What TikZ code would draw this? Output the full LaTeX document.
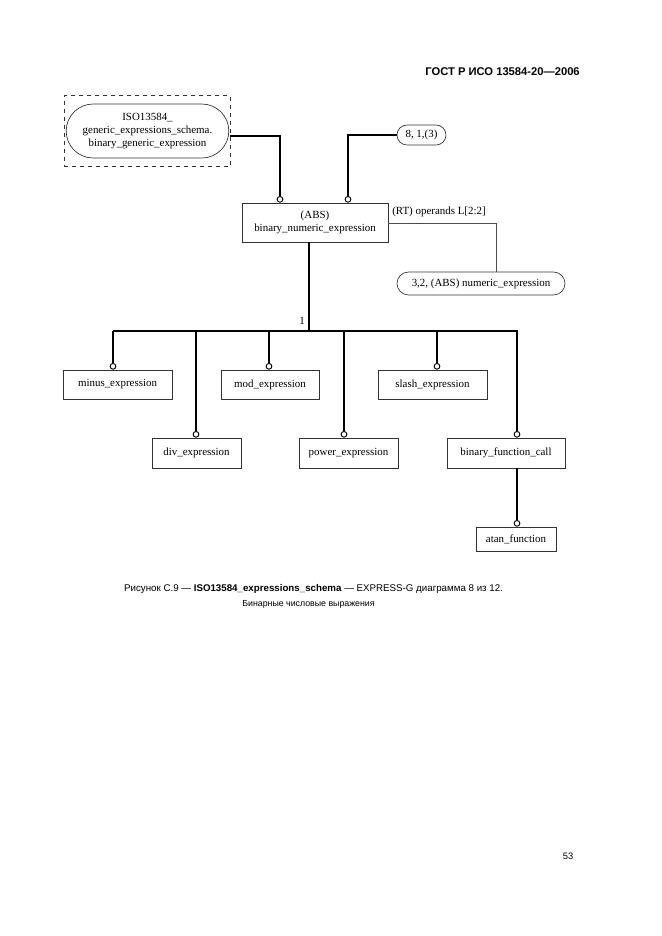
\documentclass[tikz,border=0pt]{standalone}
\usepackage{fontspec}
\setmainfont{Liberation Serif}
\setsansfont{Liberation Sans}
\usepackage{tikz}
\usetikzlibrary{shapes.misc}
\usetikzlibrary{arrows.meta}

\tikzset{
  entity/.style={draw=black!80, line width=0.5pt, fill=white, inner sep=0pt, align=center, font=\fontsize{8.2}{9.7}\selectfont},
  oval/.style={entity, rounded rectangle},
  link/.style={line width=1.2pt, black},
  thinlink/.style={line width=0.6pt, black!70},
  circend/.style={link, -{Circle[open, length=5pt, width=5pt, line width=0.7pt, fill=white]}},
}

\begin{document}
\begin{tikzpicture}[x=0.75pt,y=0.75pt,yscale=-1,xscale=1]
\useasboundingbox (0,0) rectangle (661,936);

% Header
\node (hdr) [anchor=east, inner sep=0pt, font=\sffamily\bfseries\fontsize{8.4}{10}\selectfont] at (580,72) {ГОСТ Р ИСО 13584-20—2006};

% Shape: dashed frame and schema reference
\node (frame) [draw=black!80, dashed, line width=0.7pt, minimum width=124.5pt, minimum height=53.25pt] at (147,131) {};
\node (schema) [oval, minimum width=122pt, minimum height=40.5pt] at (147.5,131) {ISO13584\_\\generic\_expressions\_schema.\\binary\_generic\_expression};

% Shape: page reference
\node (pageref) [oval, minimum width=36.75pt, minimum height=15pt] at (421.5,135) {8, 1,(3)};

% Shape: main entity
\node (main) [entity, minimum width=109.5pt, minimum height=29.25pt] at (315,222.5) {(ABS)\\binary\_numeric\_expression};

% Shape: numeric expression reference
\node (numexpr) [oval, minimum width=126pt, minimum height=17.25pt] at (481,283.5) {3,2, (ABS) numeric\_expression};

% Subtypes
\node (minus) [entity, minimum width=81.75pt, minimum height=21.75pt] at (117.5,384.5) {minus\_expression};
\node (mod) [entity, minimum width=73.5pt, minimum height=21.75pt] at (270,384.5) {mod\_expression};
\node (slash) [entity, minimum width=81.75pt, minimum height=21.75pt] at (432.5,384.5) {slash\_expression};
\node (div) [entity, minimum width=66.75pt, minimum height=22.5pt] at (196.5,453) {div\_expression};
\node (power) [entity, minimum width=74.25pt, minimum height=22.5pt] at (348.5,453) {power\_expression};
\node (bfc) [entity, minimum width=88.5pt, minimum height=22.5pt] at (506,453) {binary\_function\_call};
\node (atan) [entity, minimum width=60pt, minimum height=18pt] at (516,539) {atan\_function};

% Joints
\coordinate (j1) at (280,136);
\coordinate (j2) at (348,135);
\coordinate (j3) at (496,223);
\coordinate (bus) at (309,331);
\coordinate (bl) at (113,331);
\coordinate (br) at (518,331);

% Straight Lines
\draw [circend] (frame.east |- j1) -- (j1) -- (j1 |- main.north);
\draw [circend] (pageref.west) -- (j2) -- (j2 |- main.north);
\draw [thinlink] (main.east |- j3) -- (j3) -- (j3 |- numexpr.north);
\draw [link] (main.south -| bus) -- (bus);
\draw [link] (bl) -- (br);
\draw [circend] (bl) -- (bl |- minus.north);
\draw [circend] (269,331) -- (269,331 |- mod.north);
\draw [circend] (437,331) -- (437,331 |- slash.north);
\draw [circend] (196,331) -- (196,331 |- div.north);
\draw [circend] (344,331) -- (344,331 |- power.north);
\draw [circend] (517,331) -- (517,331 |- bfc.north);
\draw [line width=0.9pt, -{Circle[open, length=5pt, width=5pt, line width=0.7pt, fill=white]}] (bfc.south -| atan.north) ++(1,0) -- ([xshift=0.75pt]atan.north);

% Text Node
\node (label1) [font=\fontsize{8.2}{9.7}\selectfont, inner sep=0pt] at (302,321) {1};
\node (labelrt) [font=\fontsize{8.2}{9.7}\selectfont, inner sep=0pt, anchor=west] at (392,212) {(RT) operands L[2:2]};

% Caption
\node (cap1) [font=\sffamily\fontsize{7.3}{8.5}\selectfont, inner sep=0pt] at (313.5,589) {Рисунок С.9 — \textbf{ISO13584\_expressions\_schema} — EXPRESS-G диаграмма 8 из 12.};
\node (cap2) [font=\sffamily\fontsize{6.6}{8}\selectfont, inner sep=0pt] at (308.5,604) {Бинарные числовые выражения};

% Page number
\node (pagenum) [font=\sffamily\fontsize{7}{8}\selectfont, inner sep=0pt] at (568,856) {53};

\end{tikzpicture}
\end{document}
